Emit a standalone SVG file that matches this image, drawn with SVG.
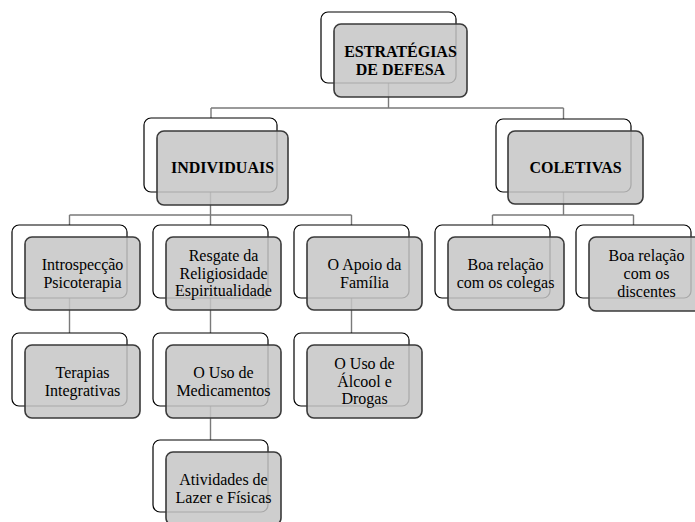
<svg xmlns="http://www.w3.org/2000/svg" width="695" height="522" viewBox="0 0 695 522">
<style>
.bg{fill:#fff;stroke:#000;stroke-width:1.2}
.fg{fill:#c6c6c6;fill-opacity:0.85;stroke:#3a3a3a;stroke-width:1.6}
.t{font-family:"Liberation Serif","Times New Roman",serif;font-size:16px;fill:#000;text-anchor:middle}
.b{font-weight:bold}
.c{fill:none;stroke:#7a7a7a;stroke-width:1.4}
</style>
<rect width="695" height="522" fill="#fff"/>
<g id="connectors">
<path class="c" d="M388.5 83V108M211 108H563.5M211 108V118M563.5 108V119"/>
<path class="c" d="M210.5 192V215M69.5 215H351.5M69.5 215V225M210.5 215V225M351.5 215V225"/>
<path class="c" d="M563.5 192V215M492.5 215H633.5M492.5 215V225M633.5 215V225"/>
<path class="c" d="M69.5 298V333M210.5 298V333M351.5 298V333M210.5 406V440"/>
</g>
<g id="n-estrategias">
<rect class="bg" x="321" y="12" width="135" height="71" rx="7"/>
<rect class="fg" x="334" y="24" width="133" height="73" rx="7"/>
<text class="t b" x="400.5" y="56.5">ESTRATÉGIAS</text>
<text class="t b" x="400.5" y="75">DE DEFESA</text>
</g>
<g id="n-individuais">
<rect class="bg" x="144" y="118" width="133" height="74" rx="7"/>
<rect class="fg" x="157" y="131" width="131" height="74" rx="7"/>
<text class="t b" x="222.5" y="173">INDIVIDUAIS</text>
</g>
<g id="n-coletivas">
<rect class="bg" x="496" y="119" width="135" height="73" rx="7"/>
<rect class="fg" x="508" y="131" width="135" height="73" rx="7"/>
<text class="t b" x="575.5" y="173">COLETIVAS</text>
</g>
<g id="n-introspeccao">
<rect class="bg" x="12" y="225" width="115" height="73" rx="7"/>
<rect class="fg" x="25" y="237" width="115" height="73" rx="7"/>
<text class="t" x="82.5" y="269.5">Introspecção</text>
<text class="t" x="82.5" y="287.5">Psicoterapia</text>
</g>
<g id="n-resgate">
<rect class="bg" x="153" y="225" width="115" height="73" rx="7"/>
<rect class="fg" x="166" y="237" width="115" height="73" rx="7"/>
<text class="t" x="223.5" y="261">Resgate da</text>
<text class="t" x="223.5" y="278.5">Religiosidade</text>
<text class="t" x="223.5" y="296">Espiritualidade</text>
</g>
<g id="n-apoio">
<rect class="bg" x="294" y="225" width="115" height="73" rx="7"/>
<rect class="fg" x="307" y="237" width="115" height="73" rx="7"/>
<text class="t" x="364.5" y="269.5">O Apoio da</text>
<text class="t" x="364.5" y="287.5">Família</text>
</g>
<g id="n-colegas">
<rect class="bg" x="435" y="225" width="115" height="73" rx="7"/>
<rect class="fg" x="448" y="237" width="116" height="73" rx="7"/>
<text class="t" x="505.5" y="269.5">Boa relação</text>
<text class="t" x="505.5" y="287.5">com os colegas</text>
</g>
<g id="n-discentes">
<rect class="bg" x="576" y="225" width="115" height="73" rx="7"/>
<rect class="fg" x="589" y="237" width="115" height="74" rx="7"/>
<text class="t" x="646.5" y="261">Boa relação</text>
<text class="t" x="646.5" y="279">com os</text>
<text class="t" x="646.5" y="297">discentes</text>
</g>
<g id="n-terapias">
<rect class="bg" x="12" y="333" width="115" height="73" rx="7"/>
<rect class="fg" x="25" y="345" width="115" height="73" rx="7"/>
<text class="t" x="82.5" y="377.5">Terapias</text>
<text class="t" x="82.5" y="395.5">Integrativas</text>
</g>
<g id="n-medicamentos">
<rect class="bg" x="153" y="333" width="115" height="73" rx="7"/>
<rect class="fg" x="166" y="345" width="115" height="73" rx="7"/>
<text class="t" x="223.5" y="377.5">O Uso de</text>
<text class="t" x="223.5" y="395.5">Medicamentos</text>
</g>
<g id="n-alcool">
<rect class="bg" x="294" y="333" width="115" height="73" rx="7"/>
<rect class="fg" x="307" y="345" width="115" height="73" rx="7"/>
<text class="t" x="364.5" y="369">O Uso de</text>
<text class="t" x="364.5" y="386.5">Álcool e</text>
<text class="t" x="364.5" y="404">Drogas</text>
</g>
<g id="n-atividades">
<rect class="bg" x="153" y="440" width="115" height="72" rx="7"/>
<rect class="fg" x="166" y="452" width="115" height="73" rx="7"/>
<text class="t" x="223.5" y="484.5">Atividades de</text>
<text class="t" x="223.5" y="502.5">Lazer e Físicas</text>
</g>
</svg>
